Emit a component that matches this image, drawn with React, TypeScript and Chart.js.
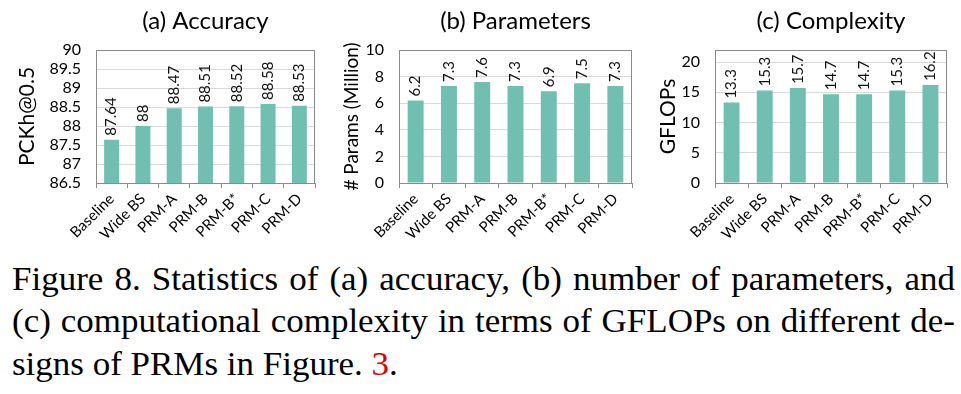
import React, { useEffect, useRef } from "react";
import { Chart, registerables } from "chart.js";
Chart.register(...registerables);

const categories = ["Baseline", "Wide BS", "PRM-A", "PRM-B", "PRM-B*", "PRM-C", "PRM-D"];
const accuracyValues = [87.64, 88, 88.47, 88.51, 88.52, 88.58, 88.53];
const paramValues = [6.2, 7.3, 7.6, 7.3, 6.9, 7.5, 7.3];
const gflopValues = [13.3, 15.3, 15.7, 14.7, 14.7, 15.3, 16.2];

const accuracyAxis = { min: 86.5, max: 90, step: 0.5 };
const paramAxis = { min: 0, max: 10, step: 2 };
const gflopAxis = { min: 0, max: 22, step: 5 };

const BAR = "#70bfb1";
const FONT = "Lato, 'Open Sans', sans-serif";

const framePlugin = {
  id: "frame",
  beforeDatasetsDraw(chart: any) {
    const { ctx, chartArea } = chart;
    ctx.save();
    ctx.strokeStyle = "#8a8a8a";
    ctx.lineWidth = 1;
    ctx.strokeRect(
      Math.round(chartArea.left) + 0.5,
      Math.round(chartArea.top) + 0.5,
      Math.round(chartArea.right - chartArea.left) - 1,
      Math.round(chartArea.bottom - chartArea.top)
    );
    ctx.restore();
  },
};

const valueLabelPlugin = {
  id: "valueLabels",
  afterDatasetsDraw(chart: any) {
    const { ctx } = chart;
    const ds = chart.data.datasets[0];
    const meta = chart.getDatasetMeta(0);
    ctx.save();
    ctx.fillStyle = "#111";
    ctx.font = `15px ${FONT}`;
    ctx.textAlign = "left";
    ctx.textBaseline = "middle";
    meta.data.forEach((bar: any, i: number) => {
      ctx.save();
      ctx.translate(bar.x, bar.y - 4);
      ctx.rotate(-Math.PI / 2);
      ctx.fillText(String(ds.data[i]), 0, 0);
      ctx.restore();
    });
    ctx.restore();
  },
};

type PanelProps = {
  title: string;
  yTitle: string;
  yTitleSize: number;
  values: number[];
  axis: { min: number; max: number; step: number };
  yWidth: number;
  padRight: number;
  yTitleCenter: number;
  left: number;
  width: number;
};

function Panel({ title, yTitle, yTitleSize, values, axis, yWidth, padRight, yTitleCenter, left, width }: PanelProps) {
  const ref = useRef<HTMLCanvasElement>(null);
  useEffect(() => {
    if (!ref.current) return;
    const chart = new Chart(ref.current, {
      type: "bar",
      data: {
        labels: categories,
        datasets: [
          {
            data: values,
            backgroundColor: BAR,
            borderWidth: 0,
            barPercentage: 0.48,
            categoryPercentage: 1,
          },
        ],
      },
      options: {
        animation: false,
        responsive: false,
        maintainAspectRatio: false,
        layout: { padding: { left: 0, right: padRight, top: 0, bottom: 0 } },
        plugins: {
          legend: { display: false },
          tooltip: { enabled: false },
          title: {
            display: true,
            text: title,
            fullSize: false,
            color: "#000",
            font: { family: FONT, size: 24, weight: "normal", lineHeight: 1.2 },
            padding: { top: 7, bottom: 14.2 },
          },
        },
        scales: {
          x: {
            grid: {
              offset: true,
              drawOnChartArea: false,
              drawTicks: true,
              tickLength: 5,
              color: "#8a8a8a",
            },
            border: { color: "#8a8a8a" },
            ticks: {
              color: "#000",
              font: { family: FONT, size: 15 },
              minRotation: 45,
              maxRotation: 45,
              autoSkip: false,
              padding: 2,
            },
            afterFit: (s: any) => {
              s.height = 67;
            },
          },
          y: {
            min: axis.min,
            max: axis.max,
            grid: { color: "#d9d9d9", drawTicks: false },
            border: { color: "#8a8a8a" },
            ticks: {
              stepSize: axis.step,
              includeBounds: false,
              autoSkip: false,
              color: "#000",
              font: { family: FONT, size: 16 },
              padding: 15,
              callback: (v: any) => String(Number(Number(v).toFixed(2))),
            },
            title: {
              display: true,
              text: yTitle,
              color: "#000",
              font: { family: FONT, size: yTitleSize, lineHeight: 1.2 },
              padding: { top: yTitleCenter - (yTitleSize * 1.2) / 2, bottom: 0 },
            },
            afterFit: (s: any) => {
              s.width = yWidth;
            },
          },
        },
      },
      plugins: [framePlugin, valueLabelPlugin],
    });
    return () => chart.destroy();
  }, []);
  return (
    <canvas
      ref={ref}
      width={width}
      height={250}
      style={{ position: "absolute", left, top: 0, width, height: 250 }}
    />
  );
}

const SX = 1.06;
const captionStyle: React.CSSProperties = {
  position: "absolute",
  left: 12,
  width: 943 / SX,
  fontFamily: "'Liberation Serif', 'Times New Roman', serif",
  fontSize: 33,
  lineHeight: "42.5px",
  color: "#000",
  whiteSpace: "nowrap",
  transform: `scaleX(${SX})`,
  transformOrigin: "0 0",
};

export default function App() {
  return (
    <div style={{ position: "absolute", left: 0, top: 0, width: 961, height: 394, background: "#fff", overflow: "hidden" }}>
      <Panel title="(a) Accuracy" yTitle="PCKh@0.5" yTitleSize={21} values={accuracyValues} axis={accuracyAxis}
        yWidth={96} padRight={5} yTitleCenter={27} left={0} width={320} />
      <Panel title="(b) Parameters" yTitle="# Params (Million)" yTitleSize={19} values={paramValues} axis={paramAxis}
        yWidth={79} padRight={8} yTitleCenter={32} left={320} width={320} />
      <Panel title="(c) Complexity" yTitle="GFLOPs" yTitleSize={21} values={gflopValues} axis={gflopAxis}
        yWidth={75} padRight={14} yTitleCenter={28} left={640} width={321} />
      <div style={{ ...captionStyle, top: 257.6, textAlign: "justify", textAlignLast: "justify" }}>
        Figure 8. Statistics of (a) accuracy, (b) number of parameters, and
      </div>
      <div style={{ ...captionStyle, top: 300.1, textAlign: "justify", textAlignLast: "justify" }}>
        (c) computational complexity in terms of GFLOPs on different de-
      </div>
      <div style={{ ...captionStyle, top: 342.6, textAlign: "left" }}>
        signs of PRMs in Figure. <span style={{ color: "#e00000" }}>3</span>.
      </div>
    </div>
  );
}
